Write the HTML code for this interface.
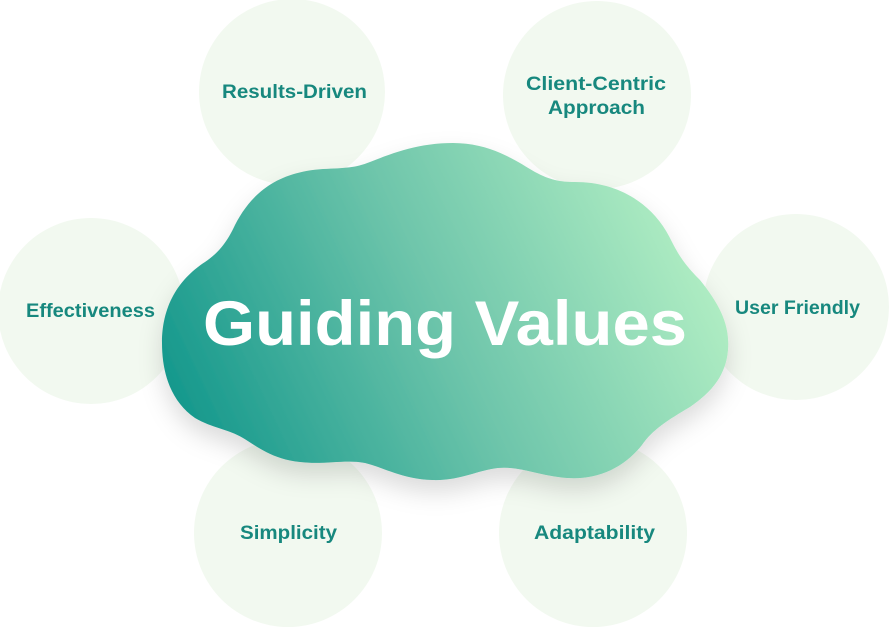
<!DOCTYPE html>
<html><head><meta charset="utf-8"><style>
html,body{margin:0;padding:0;background:#fff;width:889px;height:627px;overflow:hidden}
svg{display:block}
</style></head><body>
<svg width="889" height="627" viewBox="0 0 889 627" xmlns="http://www.w3.org/2000/svg">
<defs>
<linearGradient id="g" x1="180" y1="440" x2="690" y2="200" gradientUnits="userSpaceOnUse">
<stop offset="0" stop-color="#11968b"/>
<stop offset="0.5" stop-color="#6cc4aa"/>
<stop offset="1" stop-color="#b3efc4"/>
</linearGradient>
<filter id="sh" x="-20%" y="-20%" width="140%" height="150%">
<feDropShadow dx="0" dy="12" stdDeviation="12" flood-color="#000" flood-opacity="0.14"/>
</filter>
</defs>
<g fill="#f2f9f0">
<circle cx="292" cy="92" r="93"/>
<circle cx="597" cy="95" r="94"/>
<circle cx="91" cy="311" r="93"/>
<circle cx="796" cy="307" r="93"/>
<circle cx="288" cy="533" r="94"/>
<circle cx="593" cy="533" r="94"/>
</g>
<g font-family="Liberation Sans, sans-serif" font-weight="bold" font-size="19" fill="#17887e">
<text x="222" y="98" textLength="145" lengthAdjust="spacingAndGlyphs">Results-Driven</text>
<text x="526" y="90" textLength="140" lengthAdjust="spacingAndGlyphs">Client-Centric</text>
<text x="548" y="114" textLength="97" lengthAdjust="spacingAndGlyphs">Approach</text>
<text x="26" y="317" textLength="129" lengthAdjust="spacingAndGlyphs">Effectiveness</text>
<text x="735" y="314" textLength="125" lengthAdjust="spacingAndGlyphs">User Friendly</text>
<text x="240" y="539" textLength="97" lengthAdjust="spacingAndGlyphs">Simplicity</text>
<text x="534" y="539" textLength="121" lengthAdjust="spacingAndGlyphs">Adaptability</text>
</g>
<path fill="url(#g)" filter="url(#sh)" d="M453,143 C490,143 515,160 535,172 C550,180 560,182 575,182 C620,182 655,205 672,242 C680,258 688,268 700,280 C720,305 730,325 728,350 C726,375 712,392 690,407 C668,420 652,430 642,445 C622,470 595,480 567,478 C540,476 520,466 498,468 C478,470 460,481 432,480 C402,479 385,468 365,463 C345,459 325,465 300,462 C272,459 258,447 243,438 C228,429 212,428 195,418 C172,402 162,375 162,343 C162,302 182,277 205,262 C220,252 228,240 235,225 C252,192 278,172 323,169 C345,168 355,168 370,162 C395,152 420,143 453,143 Z"/>
<text x="445" y="345" font-family="Liberation Sans, sans-serif" font-weight="bold" font-size="63" fill="#fff" text-anchor="middle" textLength="484" lengthAdjust="spacingAndGlyphs">Guiding Values</text>
</svg>
</body></html>
